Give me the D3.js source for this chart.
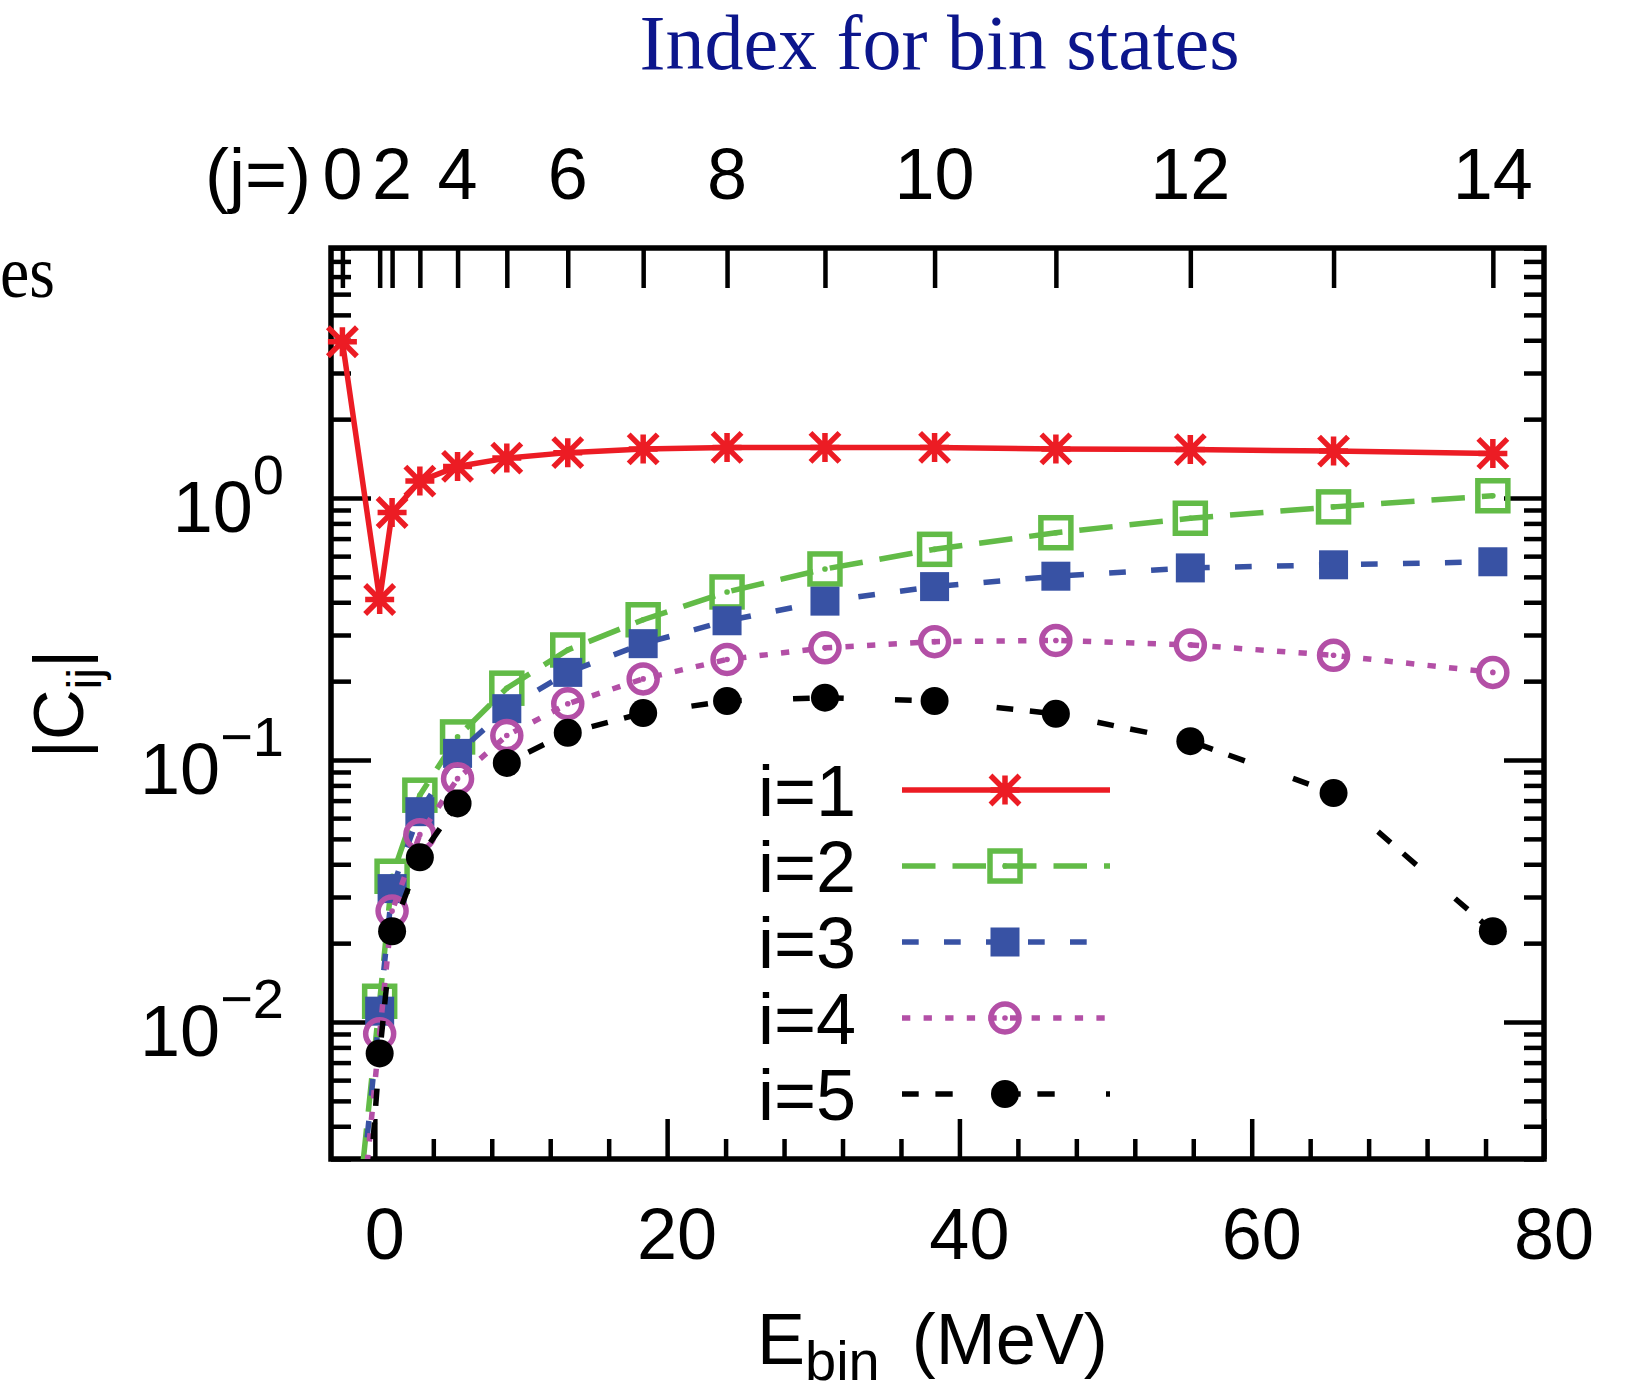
<!DOCTYPE html>
<html><head><meta charset="utf-8">
<script src="https://cdn.jsdelivr.net/npm/d3@7"></script>
<style>
html,body{margin:0;padding:0;background:#fff;}
svg{display:block;}
</style></head>
<body>
<svg id="chart" width="1627" height="1392"></svg>
<script>
// ---------- data ----------
const binIndex = [0,1,2,3,4,5,6,7,8,9,10,11,12,13,14];
const energies = [-2.22,0.33,1.18,3.08,5.66,9.03,13.2,18.36,24.1,30.8,38.3,46.6,55.8,65.6,76.5];
const c1 = [3.95,0.41,0.88,1.16,1.32,1.42,1.49,1.54,1.56,1.56,1.56,1.54,1.53,1.51,1.48];
const c2 = [5e-4,0.0120,0.0360,0.0734,0.1225,0.188,0.263,0.343,0.438,0.536,0.637,0.737,0.837,0.925,1.02];
const c3 = [4e-4,0.0110,0.0323,0.0635,0.106,0.157,0.216,0.278,0.340,0.404,0.459,0.503,0.541,0.556,0.571];
const c4 = [3e-4,0.00902,0.0265,0.0519,0.0849,0.124,0.164,0.204,0.242,0.268,0.283,0.286,0.275,0.251,0.216];
const c5 = [1e-4,0.00759,0.0222,0.0425,0.0683,0.0975,0.127,0.151,0.168,0.173,0.168,0.150,0.118,0.0748,0.0222];
const seriesNames = ["i=1","i=2","i=3","i=4","i=5"];
const topTickLabels = [0,2,4,6,8,10,12,14];
const xMajorTicks = [0,20,40,60,80];
const yMajorTicks = [1,0.1,0.01];
const yExpLabels = ["0","\u22121","\u22122"];

// ---------- styles ----------
const colors = ["#ec1c24","#62bb47","#3852a4","#b34fa6","#000000"];
const dashes = [null,"33.5,17","16.7,25.3","8.3,13.3","16.7,16.7,17.3,51.3"];
const markerType = ["star","squareOpen","squareFilled","circleOpen","circleFilled"];
const allSeries = [c1,c2,c3,c4,c5];

const svg = d3.select("#chart");
const P = {left:331, right:1544, top:248, bottom:1159};
const x = d3.scaleLinear().domain([-3,80]).range([P.left,P.right]);
const y = d3.scaleLog().domain([0.003,9]).range([P.bottom,P.top]);
const FONT = "'Liberation Sans', Arial, Helvetica, sans-serif";
const SERIF = "'Liberation Serif', 'Times New Roman', serif";

svg.append("rect").attr("width",1627).attr("height",1392).attr("fill","#fff");

// clip
svg.append("clipPath").attr("id","clip").append("rect")
  .attr("x",P.left).attr("y",P.top).attr("width",P.right-P.left).attr("height",P.bottom-P.top);

// ---------- ticks ----------
function styleAxis(g){
  g.select(".domain").remove();
  g.selectAll(".tick line").attr("stroke","#000").attr("stroke-width",4.5);
  g.selectAll(".tick text").remove();
}
const xMinor = d3.range(4,80,4).filter(v=>v%20!==0);
svg.append("g").attr("transform",`translate(0,${P.bottom})`)
  .call(d3.axisBottom(x).tickValues(xMajorTicks).tickSize(-40).tickFormat("")).call(styleAxis);
svg.append("g").attr("transform",`translate(0,${P.bottom})`)
  .call(d3.axisBottom(x).tickValues(xMinor).tickSize(-20).tickFormat("")).call(styleAxis);

const yMinor = [];
[0.001,0.01,0.1,1].forEach(d=>{ for(let k=2;k<=9;k++){ const v=d*k; if(v>=0.003-1e-9 && v<=9+1e-9) yMinor.push(v);} });
[[d3.axisLeft,P.left],[d3.axisRight,P.right]].forEach(([ax,pos])=>{
  svg.append("g").attr("transform",`translate(${pos},0)`)
    .call(ax(y).tickValues(yMajorTicks).tickSize(-40).tickFormat("")).call(styleAxis);
  svg.append("g").attr("transform",`translate(${pos},0)`)
    .call(ax(y).tickValues(yMinor).tickSize(-20).tickFormat("")).call(styleAxis);
});
svg.append("g").attr("transform",`translate(0,${P.top})`)
  .call(d3.axisTop(x).tickValues(energies).tickSize(-40).tickFormat("")).call(styleAxis);

// ---------- tick labels ----------
svg.append("g").selectAll("text").data(xMajorTicks).join("text")
  .attr("x",d=>x(d)+10).attr("y",1259).attr("text-anchor","middle")
  .attr("font-family",FONT).attr("font-size",72).text(d=>d);

svg.append("g").selectAll("text").data(topTickLabels).join("text")
  .attr("x",d=>x(energies[d])).attr("y",199).attr("text-anchor","middle")
  .attr("font-family",FONT).attr("font-size",72).text(d=>d);
svg.append("text").attr("x",311).attr("y",199).attr("text-anchor","end")
  .attr("font-family",FONT).attr("font-size",72).text("(j=)");

const yl = svg.append("g").selectAll("text").data(yMajorTicks).join("text")
  .attr("x",284).attr("y",d=>y(d)+34).attr("text-anchor","end")
  .attr("font-family",FONT).attr("font-size",72);
yl.append("tspan").text("10");
yl.append("tspan").attr("font-size",56).attr("dy",-38).text((d,i)=>yExpLabels[i]);

// ---------- frame ----------
svg.append("rect").attr("x",P.left).attr("y",P.top)
  .attr("width",P.right-P.left).attr("height",P.bottom-P.top)
  .attr("fill","none").attr("stroke","#000").attr("stroke-width",5.5);

// ---------- markers ----------
function drawMarker(g, type, cx, cy, color){
  if(type==="star"){
    const h=14.5;
    g.append("path").attr("d",`M${cx-h},${cy}H${cx+h}M${cx},${cy-h}V${cy+h}M${cx-h},${cy-h}L${cx+h},${cy+h}M${cx-h},${cy+h}L${cx+h},${cy-h}`)
      .attr("stroke",color).attr("stroke-width",5.5).attr("fill","none");
  } else if(type==="squareOpen"){
    g.append("rect").attr("x",cx-15).attr("y",cy-15).attr("width",30).attr("height",30)
      .attr("fill","none").attr("stroke",color).attr("stroke-width",5.5);
    g.append("circle").attr("cx",cx).attr("cy",cy).attr("r",2.8).attr("fill",color);
  } else if(type==="squareFilled"){
    g.append("rect").attr("x",cx-14.5).attr("y",cy-14.5).attr("width",29).attr("height",29).attr("fill",color);
  } else if(type==="circleOpen"){
    g.append("circle").attr("cx",cx).attr("cy",cy).attr("r",14)
      .attr("fill","none").attr("stroke",color).attr("stroke-width",5.5);
    g.append("circle").attr("cx",cx).attr("cy",cy).attr("r",2.8).attr("fill",color);
  } else {
    g.append("circle").attr("cx",cx).attr("cy",cy).attr("r",14).attr("fill",color);
  }
}

// ---------- series ----------
const line = d3.line().x(d=>x(d[0])).y(d=>y(d[1]));
allSeries.forEach((vals,si)=>{
  const pts = energies.map((e,k)=>[e,vals[k]]);
  const g = svg.append("g");
  g.append("path").attr("d",line(pts)).attr("clip-path","url(#clip)")
    .attr("fill","none").attr("stroke",colors[si]).attr("stroke-width",5.5)
    .attr("stroke-dasharray",dashes[si]).attr("stroke-linejoin","miter");
  pts.filter(p=>p[1]>=0.003).forEach(p=>drawMarker(g,markerType[si],x(p[0]),y(p[1]),colors[si]));
});

// ---------- legend ----------
const lg = svg.append("g");
seriesNames.forEach((name,si)=>{
  const ry = 790 + si*76;
  lg.append("rect").attr("x",900).attr("y",ry-17).attr("width",212).attr("height",34).attr("fill","#fff");
  lg.append("text").attr("x",856).attr("y",ry+26).attr("text-anchor","end")
    .attr("font-family",FONT).attr("font-size",72).text(name);
  lg.append("line").attr("x1",902).attr("x2",1110).attr("y1",ry).attr("y2",ry)
    .attr("stroke",colors[si]).attr("stroke-width",5.5).attr("stroke-dasharray",dashes[si]);
  drawMarker(lg,markerType[si],1005,ry,colors[si]);
});

// ---------- axis titles ----------
const yt = svg.append("text").attr("transform","translate(83,704) rotate(-90)")
  .attr("text-anchor","middle").attr("font-family",FONT).attr("font-size",70);
yt.append("tspan").text("|C");
yt.append("tspan").attr("font-size",48).attr("dy",18).text("ij");
yt.append("tspan").attr("dy",-18).text("|");

const xt = svg.append("text").attr("x",757).attr("y",1364)
  .attr("font-family",FONT).attr("font-size",72);
xt.append("tspan").text("E");
xt.append("tspan").attr("font-size",56).attr("dy",16).text("bin");
xt.append("tspan").attr("dy",-16).attr("dx",12).text(" (MeV)");

// ---------- top title and fragment ----------
svg.append("text").attr("x",639.5).attr("y",68.5)
  .attr("font-family",SERIF).attr("font-size",78).attr("fill","#0c168c")
  .text("Index for bin states");
svg.append("text").attr("x",0).attr("y",297)
  .attr("font-family",SERIF).attr("font-size",74).attr("fill","#000")
  .attr("textLength",55).attr("lengthAdjust","spacingAndGlyphs").text("es");
</script>
</body></html>
